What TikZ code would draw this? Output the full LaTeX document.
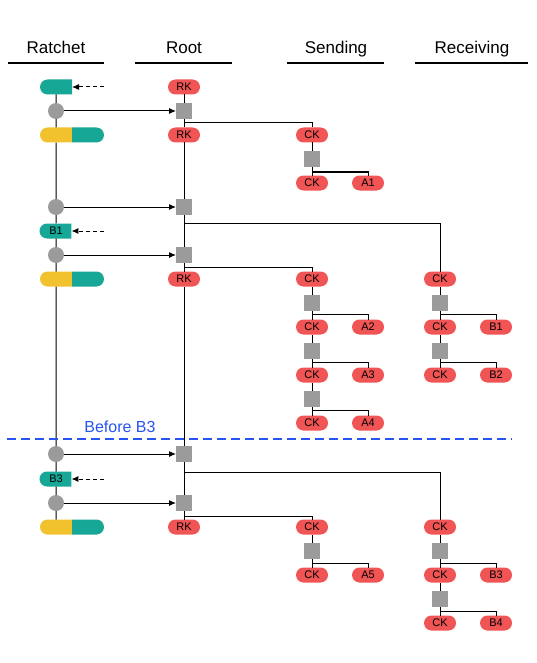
\documentclass[tikz,border=0pt]{standalone}
\usepackage{fontspec}
\setmainfont{Liberation Sans}
\usepackage{tikz,xcolor}
\usetikzlibrary{positioning,shapes.misc,arrows.meta}

\definecolor{ratchetteal}{RGB}{23,167,151}
\definecolor{keyyellow}{RGB}{242,193,46}
\definecolor{keyred}{RGB}{240,84,84}
\definecolor{kdfgray}{RGB}{155,155,155}
\definecolor{beforeblue}{RGB}{40,84,240}

\begin{document}
\begin{tikzpicture}[
        x=1pt, y=-1pt,
        every node/.style={font=\fontsize{11}{13}\selectfont, inner sep=0pt, outer sep=0pt},
        header/.style={font=\fontsize{17}{20}\selectfont, anchor=base},
        headrule/.style={line width=1.6pt},
        chainkey/.style={rounded rectangle, fill=keyred, minimum width=32pt, minimum height=15pt},
        kdf/.style={rectangle, fill=kdfgray, minimum size=16pt},
        dh/.style={circle, fill=kdfgray, minimum size=16pt},
        pubkey/.style={rounded rectangle, rounded rectangle east arc=none, fill=ratchetteal, minimum width=32pt, minimum height=15pt},
        privhalf/.style={pubkey, fill=keyyellow},
        pubhalf/.style={rounded rectangle, rounded rectangle west arc=none, fill=ratchetteal, minimum width=32pt, minimum height=15pt},
        link/.style={draw, line width=1pt},
        incoming/.style={link, dash pattern=on 4pt off 3pt, ->},
        >={Latex[length=7pt,width=6pt]}
    ]
        \useasboundingbox (0,0) rectangle (536,663);

        % Column headers
        \node[header] (hRatchet) at (56,54) {Ratchet};
        \node[header] (hRoot) at (184,54) {Root};
        \node[header] (hSending) at (336,54) {Sending};
        \node[header] (hReceiving) at (472,54) {Receiving};
        \draw[headrule] (8,63) -- (104,63);
        \draw[headrule] (135,63) -- (232,63);
        \draw[headrule] (287,63) -- (384,63);
        \draw[headrule] (415,63) -- (528,63);

        % Ratchet column
        \node[pubkey] (pubA0) at (56,87) {};
        \coordinate (inA0) at (104,87);
        \node[dh] (dh1) at (56,111) {};
        \node[privhalf] (privA1) at (56,135) {};
        \node[pubhalf, right=0pt of privA1] (pubA1) {};
        \node[dh] (dh2) at (56,207) {};
        \node[pubkey] (pubB1) at (56,231) {B1};
        \coordinate (inB1) at (104,231);
        \node[dh] (dh3) at (56,255) {};
        \node[privhalf] (privA2) at (56,279) {};
        \node[pubhalf, right=0pt of privA2] (pubA2) {};
        \node[dh] (dh4) at (56,454) {};
        \node[pubkey] (pubB3) at (56,479) {B3};
        \coordinate (inB3) at (104,479);
        \node[dh] (dh5) at (56,503) {};
        \node[privhalf] (privA3) at (56,527) {};
        \node[pubhalf, right=0pt of privA3] (pubA3) {};

        % Root chain
        \node[chainkey] (rk0) at (184,87) {RK};
        \node[kdf] (kdfR1) at (184,111) {};
        \node[chainkey] (rk1) at (184,135) {RK};
        \node[kdf] (kdfR2) at (184,207) {};
        \node[kdf] (kdfR3) at (184,255) {};
        \node[chainkey] (rk2) at (184,279) {RK};
        \node[kdf] (kdfR4) at (184,454) {};
        \node[kdf] (kdfR5) at (184,503) {};
        \node[chainkey] (rk3) at (184,527) {RK};

        % Sending chains
        \node[chainkey] (sck1) at (312,135) {CK};
        \node[kdf] (kdfS1) at (312,159) {};
        \node[chainkey] (sck2) at (312,183) {CK};
        \node[chainkey, right=24pt of sck2] (msgA1) {A1};

        \node[chainkey] (sck3) at (312,279) {CK};
        \node[kdf] (kdfS2) at (312,303) {};
        \node[chainkey] (sck4) at (312,327) {CK};
        \node[chainkey, right=24pt of sck4] (msgA2) {A2};
        \node[kdf] (kdfS3) at (312,351) {};
        \node[chainkey] (sck5) at (312,375) {CK};
        \node[chainkey, right=24pt of sck5] (msgA3) {A3};
        \node[kdf] (kdfS4) at (312,399) {};
        \node[chainkey] (sck6) at (312,423) {CK};
        \node[chainkey, right=24pt of sck6] (msgA4) {A4};

        \node[chainkey] (sck7) at (312,527) {CK};
        \node[kdf] (kdfS5) at (312,551) {};
        \node[chainkey] (sck8) at (312,575) {CK};
        \node[chainkey, right=24pt of sck8] (msgA5) {A5};

        % Receiving chains
        \node[chainkey] (rck1) at (440,279) {CK};
        \node[kdf] (kdfV1) at (440,303) {};
        \node[chainkey] (rck2) at (440,327) {CK};
        \node[chainkey, right=24pt of rck2] (msgB1) {B1};
        \node[kdf] (kdfV2) at (440,351) {};
        \node[chainkey] (rck3) at (440,375) {CK};
        \node[chainkey, right=24pt of rck3] (msgB2) {B2};

        \node[chainkey] (rck4) at (440,527) {CK};
        \node[kdf] (kdfV3) at (440,551) {};
        \node[chainkey] (rck5) at (440,575) {CK};
        \node[chainkey, right=24pt of rck5] (msgB3) {B3};
        \node[kdf] (kdfV4) at (440,599) {};
        \node[chainkey] (rck6) at (440,623) {CK};
        \node[chainkey, right=24pt of rck6] (msgB4) {B4};

        % Vertical chains
        \draw[link] (pubA0) -- (dh1) -- (privA1) -- (dh2) -- (pubB1) -- (dh3) -- (privA2) -- (dh4) -- (pubB3) -- (dh5) -- (privA3);
        \draw[link] (rk0) -- (kdfR1) -- (rk1) -- (kdfR2) -- (kdfR3) -- (rk2) -- (kdfR4) -- (kdfR5) -- (rk3);
        \draw[link] (sck1) -- (kdfS1) -- (sck2);
        \draw[link] (sck3) -- (kdfS2) -- (sck4) -- (kdfS3) -- (sck5) -- (kdfS4) -- (sck6);
        \draw[link] (sck7) -- (kdfS5) -- (sck8);
        \draw[link] (rck1) -- (kdfV1) -- (rck2) -- (kdfV2) -- (rck3);
        \draw[link] (rck4) -- (kdfV3) -- (rck5) -- (kdfV4) -- (rck6);

        % Root KDF outputs
        \draw[link] (kdfR1) ++(0,12) -| (sck1);
        \draw[link] (kdfR2) ++(0,16) -| (rck1);
        \draw[link] (kdfR3) ++(0,12) -| (sck3);
        \draw[link] (kdfR4) ++(0,18) -| (rck4);
        \draw[link] (kdfR5) ++(0,13) -| (sck7);

        % Message keys
        \draw[link] (kdfS1) ++(0,13) -| (msgA1);
        \draw[link] (kdfS2) ++(0,11) -| (msgA2);
        \draw[link] (kdfS3) ++(0,11) -| (msgA3);
        \draw[link] (kdfS4) ++(0,11) -| (msgA4);
        \draw[link] (kdfS5) ++(0,12) -| (msgA5);
        \draw[link] (kdfV1) ++(0,11) -| (msgB1);
        \draw[link] (kdfV2) ++(0,11) -| (msgB2);
        \draw[link] (kdfV3) ++(0,12) -| (msgB3);
        \draw[link] (kdfV4) ++(0,12) -| (msgB4);

        % DH outputs into the root chain
        \draw[link, ->] (dh1) -- (kdfR1);
        \draw[link, ->] (dh2) -- (kdfR2);
        \draw[link, ->] (dh3) -- (kdfR3);
        \draw[link, ->] (dh4) -- (kdfR4);
        \draw[link, ->] (dh5) -- (kdfR5);

        % Incoming public keys
        \draw[incoming] (inA0) -- (pubA0);
        \draw[incoming] (inB1) -- (pubB1);
        \draw[incoming] (inB3) -- (pubB3);

        % Before B3
        \coordinate (cutL) at (7,439);
        \coordinate (cutR) at (512,439);
        \draw[beforeblue, line width=1.5pt, dash pattern=on 9pt off 5pt] (cutL) -- (cutR);
        \node[font=\fontsize{16}{19}\selectfont, text=beforeblue, anchor=base] (beforeB3) at (120,432) {Before B3};

    \end{tikzpicture}
\end{document}
